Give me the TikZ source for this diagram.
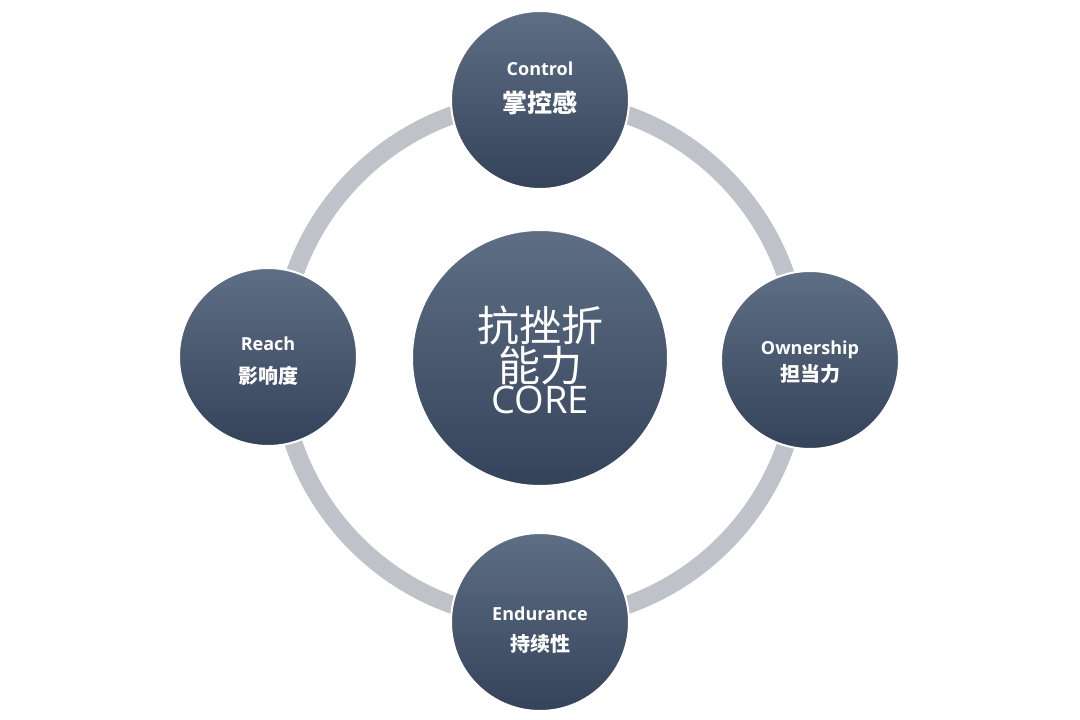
\documentclass[tikz,border=0pt]{standalone}
\usepackage{fontspec}
\setmainfont{Open Sans}
\newfontfamily\cjk{Noto Sans CJK SC}
\usetikzlibrary{positioning}
\definecolor{ringgray}{HTML}{BFC3C9}
\definecolor{navytop}{HTML}{5E6E84}
\definecolor{navybot}{HTML}{34435A}
\newcommand{\en}{\normalfont\bfseries\fontsize{18}{22}\selectfont}
\newcommand{\zh}{\cjk\bfseries\fontsize{20}{24}\selectfont}
\tikzset{
  ball/.style={circle, draw=white, line width=2pt, top color=navytop,
    bottom color=navybot, text=white, align=center, inner sep=0pt},
  small/.style={ball, minimum size=178pt},
  big/.style={ball, minimum size=256pt}
}
\begin{document}
\begin{tikzpicture}[x=1pt,y=-1pt]
  \useasboundingbox[fill=white] (0,0) rectangle (1080,720);
  \node[circle, draw=ringgray, line width=18pt, minimum size=520pt] (ring) at (540,360) {};
  \node[big] (core) at (540,358) {};
  \node[text=white, align=center] at (540,360) {\cjk\fontsize{42}{55}\selectfont 抗挫折\\\cjk\fontsize{42}{55}\selectfont 能力\\\normalfont\fontsize{38}{55}\selectfont CORE};
  \node[small] (ctrl) at (540,100) {};
  \node[text=white, align=center] at (540,88) {\en Control\\[14pt]\cjk\bfseries\fontsize{25}{28}\selectfont 掌控感};
  \node[small] (reach) at (268,357) {};
  \node[text=white, align=center] at (268,361) {\en Reach\\[14pt]\zh 影响度};
  \node[small] (own) at (810,360) {};
  \node[text=white, align=center] at (810,362) {\en Ownership\\[4pt]\zh 担当力};
  \node[small] (endu) at (540,622) {};
  \node[text=white, align=center] at (540,630) {\en Endurance\\[12pt]\zh 持续性};
\end{tikzpicture}
\end{document}
